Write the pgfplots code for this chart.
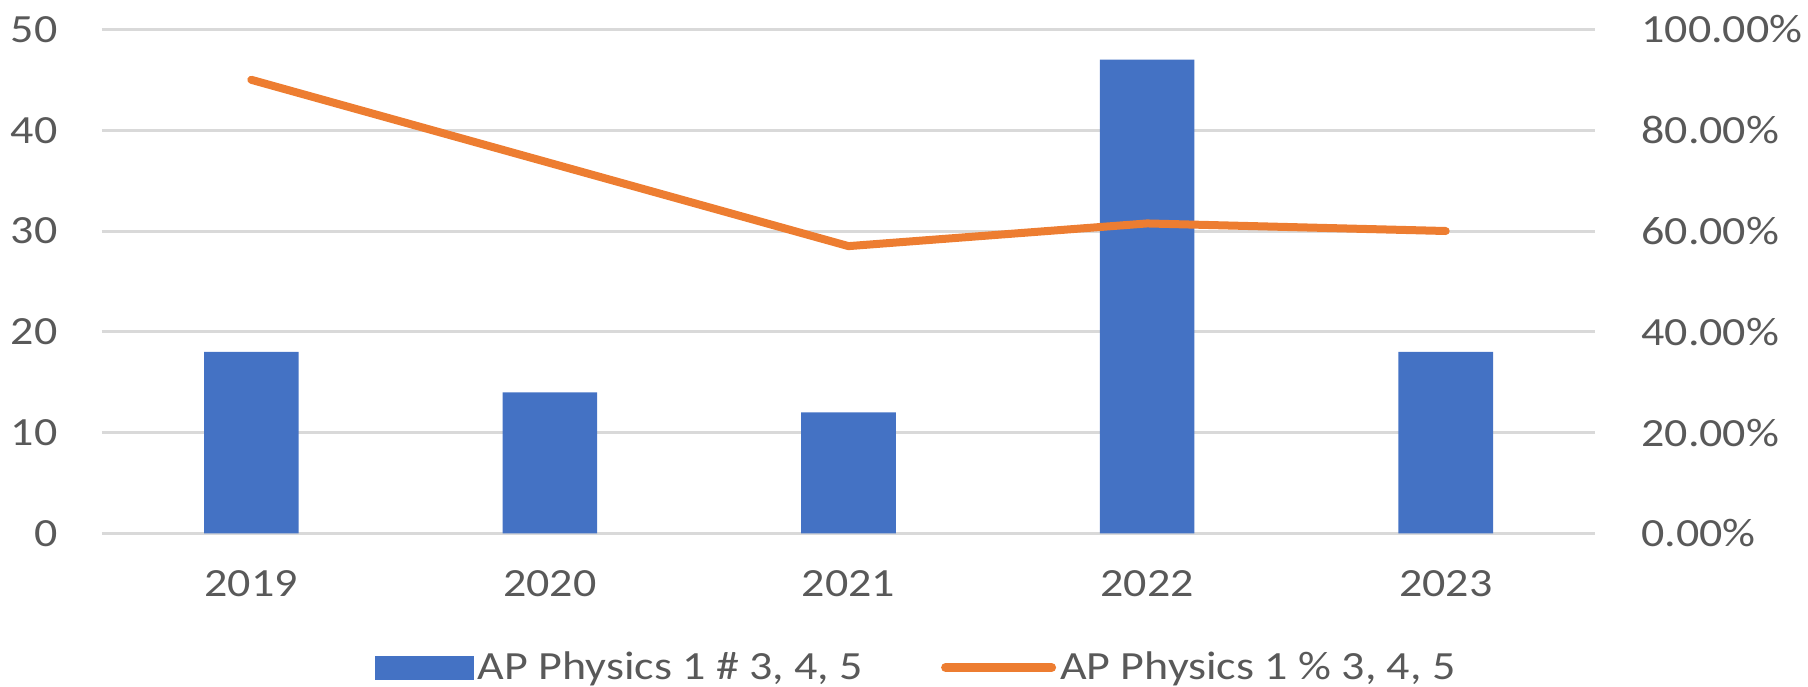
\documentclass[border=0pt]{standalone}
\usepackage{fontspec}
\setmainfont{Carlito}[FakeStretch=1.15]
\usepackage{pgfplots}
\pgfplotsset{compat=1.18}

\definecolor{barblue}{RGB}{68,114,196}
\definecolor{lineorange}{RGB}{237,125,49}
\definecolor{gridgray}{RGB}{217,217,217}
\definecolor{labelgray}{RGB}{89,89,89}

\pgfplotsset{
  common/.style={
    scale only axis, width=746.5pt, height=252pt,
    at={(0,0)}, anchor=south west,
    xmin=-0.5, xmax=4.5,
    axis line style={draw=none},
    major tick length=0pt,
    tick label style={font=\fontsize{20}{24}\selectfont, text=labelgray, inner sep=0pt},
    /pgf/number format/assume math mode=true,
  },
}

\begin{document}
\begin{tikzpicture}
\begin{axis}[common,
  ymin=0, ymax=50, ytick={0,10,...,50},
  ymajorgrids, grid style={gridgray, line width=1.5pt},
  xtick={0,...,4}, xticklabels={2019,2020,2021,2022,2023},
  xticklabel style={anchor=north, yshift=-18.5pt},
  yticklabel style={anchor=east, xshift=-22pt},
  ybar, bar width=47.3pt,
]
\addplot[draw=none, fill=barblue, bar shift=0pt] coordinates {(0,18) (1,14) (2,12) (3,47) (4,18)};
\end{axis}
\begin{axis}[common,
  ymin=0, ymax=100, ytick={0,20,...,100},
  axis y line*=right, axis x line=none,
  yticklabel={\pgfmathprintnumber[fixed,fixed zerofill,precision=2]{\tick}\%},
  yticklabel style={anchor=west, xshift=23pt},
  legend columns=2,
  legend style={at={(0.546,-0.266)}, anchor=center, draw=none, fill=none,
    font=\fontsize{20}{24}\selectfont, text=labelgray,
    /tikz/every even column/.append style={column sep=37pt},
    nodes={inner sep=2pt}},
]
\addlegendimage{legend image code/.code={\fill[barblue] (0pt,-5.75pt) rectangle (49pt,5.75pt);}}
\addlegendentry{AP Physics 1 \# 3, 4, 5}
\addplot[lineorange, line width=4pt, line join=round, line cap=round,
  legend image code/.code={\draw[lineorange, line width=4.5pt, line cap=round] (0pt,0pt) -- (53pt,0pt);}]
  coordinates {(0,90) (1,73.5) (2,57) (3,61.5) (4,60)};
\addlegendentry{AP Physics 1 \% 3, 4, 5}
\end{axis}
\pgfresetboundingbox
\path (-51pt,-76.5pt) rectangle (853pt,266.7pt);
\end{tikzpicture}
\end{document}
